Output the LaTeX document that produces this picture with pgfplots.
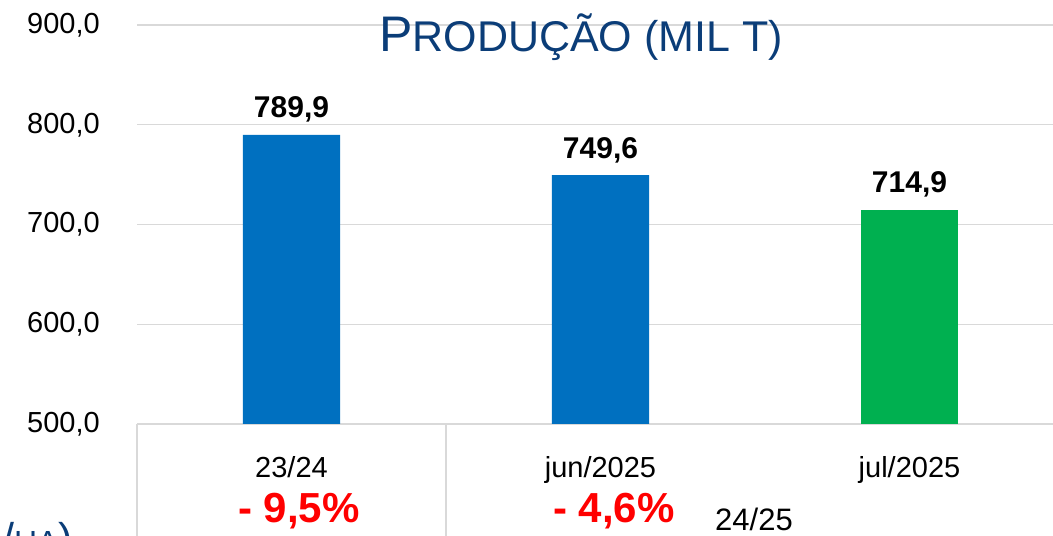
\documentclass[border=0pt]{standalone}
\usepackage{pgfplots}
\pgfplotsset{compat=1.18}
\usepackage{fontspec}
\setmainfont{Liberation Sans}
\definecolor{barblue}{HTML}{0070C0}
\definecolor{bargreen}{HTML}{00B050}
\definecolor{titleblue}{HTML}{0B3D78}
\definecolor{gridgray}{HTML}{D9D9D9}
\definecolor{pctred}{HTML}{FF0000}
\begin{document}
\begin{tikzpicture}
\useasboundingbox (0,0) rectangle (1053bp,536bp);
\begin{axis}[
  at={(137bp,112bp)}, anchor=south west,
  scale only axis, width=927bp, height=399bp,
  xmin=-0.5, xmax=2.5, ymin=500, ymax=900,
  ytick={500,600,700,800,900},
  xtick={0,1,2},
  xticklabels={23/24, jun/2025, jul/2025},
  axis line style={draw=none},
  tick style={draw=none},
  ymajorgrids, grid style={gridgray, line width=1.3bp},
  /pgf/number format/.cd, fixed, fixed zerofill, precision=1, use comma, 1000 sep={}, assume math mode=true,
  /pgfplots/.cd,
  yticklabel style={anchor=east, inner sep=0pt, xshift=-37bp, font=\fontsize{29bp}{29bp}\selectfont},
  xticklabel style={anchor=base, inner sep=0pt, yshift=-49bp, font=\fontsize{29bp}{29bp}\selectfont},
  ybar, bar shift=0pt, bar width=0.314,
  nodes near coords,
  every node near coord/.append style={anchor=base, inner sep=0pt, yshift=17bp, font=\fontsize{30bp}{30bp}\selectfont\bfseries, text=black},
]
\addplot[fill=barblue, draw=none] coordinates {(0,789.9) (1,749.6)};
\addplot[fill=bargreen, draw=none] coordinates {(2,714.9)};
\end{axis}
% category separators below the plot
\draw[gridgray, line width=1.3bp] (137bp,112bp) -- (137bp,-20bp);
\draw[gridgray, line width=1.3bp] (446bp,112bp) -- (446bp,-20bp);
% percentage changes
\node[anchor=base, inner sep=0pt, text=pctred, font=\fontsize{42bp}{42bp}\selectfont\bfseries] at (299bp,14bp) {- 9,5\%};
\node[anchor=base, inner sep=0pt, text=pctred, font=\fontsize{42bp}{42bp}\selectfont\bfseries] at (614bp,14bp) {- 4,6\%};
\node[anchor=base, inner sep=0pt, font=\fontsize{31bp}{31bp}\selectfont] at (754bp,6bp) {24/25};
% title
\node[anchor=base, inner sep=0pt, text=titleblue] at (581bp,484bp) {{\fontsize{50bp}{50bp}\selectfont P}{\fontsize{43bp}{43bp}\selectfont RODUÇÃO (MIL T)}};
% partially visible title of the chart below
\node[anchor=base east, inner sep=0pt, text=titleblue] at (73bp,-17bp) {{\fontsize{43bp}{43bp}\selectfont (}{\fontsize{32bp}{32bp}\selectfont KG}{\fontsize{43bp}{43bp}\selectfont /}{\fontsize{32bp}{32bp}\selectfont HA}{\fontsize{43bp}{43bp}\selectfont )}};
\end{tikzpicture}
\end{document}
